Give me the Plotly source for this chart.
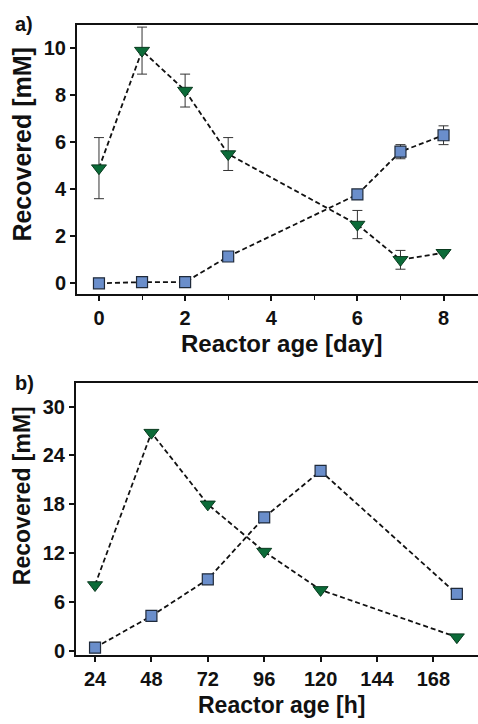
import plotly.graph_objects as go

# Panel a data (days)
days_a = [0, 1, 2, 3, 6, 7, 8]
tri_a = [4.9, 9.9, 8.2, 5.5, 2.5, 1.0, 1.3]
tri_a_err = [1.3, 1.0, 0.7, 0.7, 0.6, 0.4, 0.0]
sq_a = [0.0, 0.05, 0.05, 1.14, 3.78, 5.6, 6.3]
sq_a_err = [0.0, 0.0, 0.0, 0.0, 0.0, 0.3, 0.4]

# Panel b data (hours)
hours_b = [24, 48, 72, 96, 120, 178]
tri_b = [8.1, 26.8, 18.0, 12.2, 7.5, 1.7]
sq_b = [0.4, 4.3, 8.8, 16.4, 22.1, 7.0]

xticks_a = [0, 2, 4, 6, 8]
yticks_a = [0, 2, 4, 6, 8, 10]
xticks_b = [24, 48, 72, 96, 120, 144, 168]
yticks_b = [0, 6, 12, 18, 24, 30]

GREEN = "#0b6b38"
GREEN_EDGE = "#0a3a1f"
BLUE = "#6a8ecb"
BLUE_EDGE = "#1f2a3a"
FONT = "Liberation Sans, Arial, sans-serif"
DASH = "5px,3px"

fig = go.Figure()

err_style = dict(type="data", color="#333333", thickness=1, width=5)
line_style = dict(color="#111111", width=1.8, dash=DASH)
sq_marker = dict(symbol="square", size=11, color=BLUE, line=dict(color=BLUE_EDGE, width=1.2))
tri_marker = dict(symbol="triangle-down", size=13, color=GREEN, line=dict(color=GREEN_EDGE, width=1))

fig.add_trace(go.Scatter(
    x=days_a, y=sq_a, mode="lines+markers", xaxis="x", yaxis="y",
    line=line_style, marker=sq_marker,
    error_y=dict(array=sq_a_err, **err_style), showlegend=False))
fig.add_trace(go.Scatter(
    x=days_a, y=tri_a, mode="lines+markers", xaxis="x", yaxis="y",
    line=line_style, marker=tri_marker,
    error_y=dict(array=tri_a_err, **err_style), showlegend=False))

fig.add_trace(go.Scatter(
    x=hours_b, y=sq_b, mode="lines+markers", xaxis="x2", yaxis="y2",
    line=line_style, marker=sq_marker, showlegend=False))
fig.add_trace(go.Scatter(
    x=hours_b, y=tri_b, mode="lines+markers", xaxis="x2", yaxis="y2",
    line=line_style, marker=tri_marker, showlegend=False))

W, H = 478, 724

def bold(size):
    return dict(family=FONT, size=size, color="#111111", weight="bold")

axis_common = dict(showline=True, linecolor="#111111", linewidth=2, ticks="outside",
                   tickcolor="#111111", tickwidth=1.5, ticklen=5, showgrid=False,
                   zeroline=False, tickfont=bold(20))

def ann(text, x, y, font, angle=0, xanchor="center"):
    return dict(text=text, x=x / W, y=1 - y / H, xref="paper", yref="paper",
                xanchor=xanchor, yanchor="middle", showarrow=False, textangle=angle,
                font=font)

fig.update_layout(
    width=W, height=H,
    margin=dict(l=0, r=0, t=0, b=0),
    paper_bgcolor="white", plot_bgcolor="white",
    xaxis=dict(domain=[77 / W, 1.0], anchor="y", range=[-0.51, 8.8],
               tickvals=xticks_a, mirror=True,
               minor=dict(dtick=1, tick0=0, ticks="outside", ticklen=4, tickcolor="#111111", tickwidth=1.2),
               **axis_common),
    yaxis=dict(domain=[1 - 297 / H, 1 - 25 / H], anchor="x", range=[-0.46, 11.0],
               tickvals=yticks_a, **axis_common),
    xaxis2=dict(domain=[76 / W, 1.0], anchor="y2", range=[15.9, 187],
                tickvals=xticks_b, mirror=True, **axis_common),
    yaxis2=dict(domain=[1 - 661.7 / H, 1 - 386.7 / H], anchor="x2", range=[-0.53, 32.9],
                tickvals=yticks_b, **axis_common),
    annotations=[
        ann("a)", 13, 24, bold(20), xanchor="left"),
        ann("b)", 13, 387, bold(20), xanchor="left"),
        ann("Reactor age [day]", 281, 347, bold(24)),
        ann("Reactor age [h]", 281, 712, bold(23)),
        ann("Recovered [mM]", 22, 146, bold(25), angle=-90),
        ann("Recovered [mM]", 22, 501, bold(23), angle=-90),
    ],
)

fig.write_html("out.html", config={"displayModeBar": False},
               post_script="document.body.style.margin='0';document.body.style.overflow='hidden';")
